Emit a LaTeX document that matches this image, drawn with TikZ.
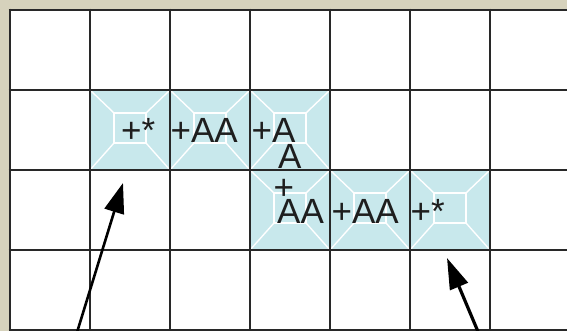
\documentclass[tikz,border=0pt]{standalone}
\usepackage{fontspec}
\setmainfont{Liberation Sans}
\usetikzlibrary{arrows.meta}
\definecolor{parch}{RGB}{214,210,188}
\definecolor{cellblue}{RGB}{200,232,236}
\definecolor{gridc}{RGB}{40,40,40}
\definecolor{txt}{RGB}{30,30,30}
\begin{document}
\begin{tikzpicture}[x=1pt,y=-1pt,
  lbl/.style={anchor=base west,inner sep=0pt,font=\fontsize{35}{38}\selectfont,text=txt},
  bevel/.style={white,line width=1.4pt},
  gridline/.style={gridc,line width=2.8pt},
  arrA/.style={-{Triangle[length=30pt,width=20pt]},line width=2.6pt,black},
  arrB/.style={-{Triangle[length=31pt,width=19pt]},line width=3.2pt,black}]
\useasboundingbox (0,0) rectangle (567,331);
\fill[parch] (0,0) rectangle (567,331);
\fill[white] (10,10) rectangle (575,335);
\foreach \cx/\cy in {90/90,170/90,250/90,250/170,330/170,410/170}{
  \fill[cellblue] (\cx,\cy) rectangle ++(80,80);
  \draw[bevel] (\cx+24,\cy+23) rectangle (\cx+56,\cy+53);
  \draw[bevel] (\cx,\cy) -- (\cx+24,\cy+23)
               (\cx+80,\cy) -- (\cx+56,\cy+23)
               (\cx,\cy+80) -- (\cx+24,\cy+53)
               (\cx+80,\cy+80) -- (\cx+56,\cy+53);
}
\foreach \x in {10,90,170,250,330,410,490} \draw[gridline] (\x,8.6) -- (\x,335);
\foreach \y in {10,90,170,250,330} \draw[gridline] (8.6,\y) -- (575,\y);
\node[lbl] (t1) at (121,143) {+*};
\node[lbl] (t2) at (170.5,143) {+AA};
\node[lbl] (t3a) at (251.5,143) {+A};
\node[lbl] (t3b) at (278,168) {A};
\node[lbl] (t4a) at (273.5,199) {+};
\node[lbl] (t4b) at (277,223) {AA};
\node[lbl] (t5) at (331.5,223) {+AA};
\node[lbl] (t6) at (410.5,223) {+*};
\coordinate (a1s) at (76.5,334);
\coordinate (a1e) at (123,183);
\coordinate (a2s) at (479,334);
\coordinate (a2e) at (447,258);
\draw[arrA] (a1s) -- (a1e);
\draw[arrB] (a2s) -- (a2e);
\end{tikzpicture}
\end{document}
